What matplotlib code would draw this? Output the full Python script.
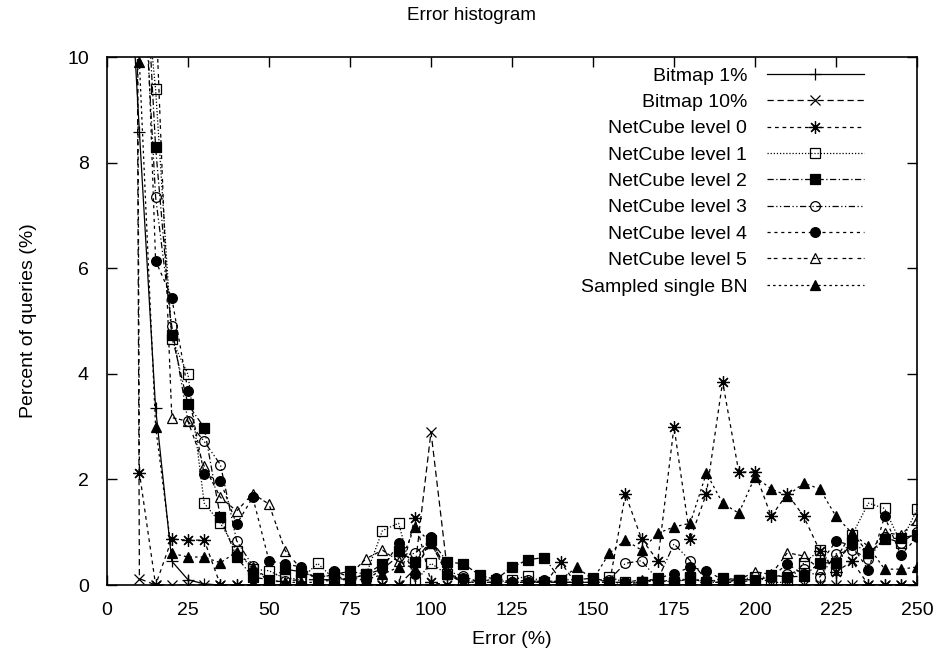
import numpy as np
import matplotlib
matplotlib.use("Agg")
import matplotlib.pyplot as plt

plt.rcParams['font.family'] = ['Liberation Sans', 'DejaVu Sans']

# error bins (%)
error = list(range(0, 255, 5))

bitmap_1 = [73, 14, 8.58, 3.35, 0.45, 0.1, 0.02] + [0.0] * 44

bitmap_10 = [15, 80, 0.12, 0.0, 0.0, 0.0, 0.0, 0.0, 0.0, 0.0,
             0.0, 0.0, 0.0, 0.0, 0.0, 0.0, 0.0, 0.0, 0.0, 0.3,
             2.9, 0.3, 0.0, 0.0, 0.0, 0.0, 0.0, 0.0, 0.0, 0.0,
             0.0, 0.0, 0.0, 0.0, 0.0, 0.0, 0.0, 0.0, 0.0, 0.0,
             0.0, 0.0, 0.0, 0.0, 0.0, 0.0, 0.0, 0.0, 0.0, 0.0, 0.0]

netcube_0 = [15, 80, 2.13, 0.0, 0.87, 0.85, 0.85, 0.0, 0.0, 0.0,
             0.0, 0.0, 0.0, 0.0, 0.0, 0.0, 0.0, 0.0, 0.0, 1.27,
             0.05, 0.0, 0.0, 0.0, 0.0, 0.0, 0.0, 0.0, 0.44, 0.0,
             0.0, 0.0, 1.72, 0.87, 0.46, 3.0, 0.87, 1.73, 3.85, 2.14,
             2.14, 1.3, 1.73, 1.3, 0.65, 0.25, 0.45, 0.0, 0.0, 0.0, 0.0]

netcube_1 = [15, 60, 12.5, 9.39, 4.65, 3.99, 1.55, 1.17, 0.65, 0.3,
             0.27, 0.12, 0.12, 0.41, 0.12, 0.12, 0.2, 1.03, 1.17, 0.05,
             0.41, 0.2, 0.1, 0.05, 0.05, 0.1, 0.17, 0.05, 0.05, 0.05,
             0.05, 0.15, 0.05, 0.05, 0.1, 0.05, 0.15, 0.05, 0.05, 0.1,
             0.15, 0.05, 0.05, 0.41, 0.66, 0.28, 0.95, 1.55, 1.45, 0.8, 1.43]

netcube_2 = [15, 60, 14, 8.29, 4.73, 3.42, 2.98, 1.28, 0.53, 0.15,
             0.1, 0.3, 0.25, 0.13, 0.2, 0.26, 0.2, 0.4, 0.65, 0.44,
             0.85, 0.44, 0.4, 0.19, 0.1, 0.34, 0.48, 0.52, 0.1, 0.1,
             0.13, 0.06, 0.02, 0.05, 0.13, 0.04, 0.13, 0.04, 0.13, 0.1,
             0.1, 0.19, 0.15, 0.17, 0.42, 0.42, 0.8, 0.6, 0.87, 0.89, 0.95]

netcube_3 = [15, 60, 13, 7.35, 4.9, 3.1, 2.72, 2.28, 0.84, 0.36,
             0.05, 0.08, 0.1, 0.1, 0.1, 0.12, 0.2, 0.3, 0.55, 0.6,
             0.85, 0.26, 0.17, 0.05, 0.05, 0.05, 0.1, 0.05, 0.05, 0.05,
             0.05, 0.1, 0.41, 0.46, 0.1, 0.78, 0.46, 0.1, 0.05, 0.05,
             0.1, 0.15, 0.2, 0.3, 0.15, 0.59, 0.66, 0.5, 0.9, 0.8, 1.0]

netcube_4 = [15, 60, 15, 6.14, 5.44, 3.67, 2.1, 1.97, 1.15, 1.66,
             0.46, 0.4, 0.34, 0.1, 0.26, 0.15, 0.1, 0.3, 0.8, 0.2,
             0.91, 0.2, 0.13, 0.05, 0.13, 0.05, 0.05, 0.1, 0.05, 0.05,
             0.05, 0.05, 0.05, 0.05, 0.13, 0.21, 0.34, 0.27, 0.1, 0.1,
             0.1, 0.15, 0.4, 0.2, 0.4, 0.83, 0.75, 0.28, 1.3, 0.57, 0.9]

netcube_5 = [15, 60, 16, 11, 3.17, 3.1, 2.25, 1.66, 1.4, 1.73,
             1.53, 0.65, 0.3, 0.1, 0.1, 0.2, 0.5, 0.66, 0.45, 0.3,
             0.8, 0.2, 0.05, 0.05, 0.05, 0.05, 0.05, 0.05, 0.05, 0.05,
             0.05, 0.05, 0.05, 0.1, 0.05, 0.1, 0.05, 0.05, 0.05, 0.1,
             0.25, 0.2, 0.61, 0.55, 0.3, 0.5, 0.99, 0.6, 0.99, 0.95, 1.23]

sampled_bn = [15, 70, 9.9, 3.0, 0.6, 0.53, 0.53, 0.42, 0.63, 0.35,
              0.1, 0.05, 0.05, 0.05, 0.1, 0.1, 0.1, 0.2, 0.34, 1.1,
              0.8, 0.2, 0.05, 0.05, 0.05, 0.05, 0.05, 0.05, 0.1, 0.34,
              0.1, 0.6, 0.85, 0.66, 0.98, 1.1, 1.17, 2.12, 1.55, 1.36,
              2.05, 1.82, 1.69, 1.93, 1.82, 1.3, 0.98, 0.73, 0.3, 0.3, 0.34]

labels = ["Bitmap 1%", "Bitmap 10%", "NetCube level 0", "NetCube level 1",
          "NetCube level 2", "NetCube level 3", "NetCube level 4",
          "NetCube level 5", "Sampled single BN"]
series = [bitmap_1, bitmap_10, netcube_0, netcube_1, netcube_2,
          netcube_3, netcube_4, netcube_5, sampled_bn]

# gnuplot-like line and point styles
styles = [
    dict(linestyle='-', marker='+', mfc='black', ms=8),
    dict(linestyle=(0, (5, 3)), marker='x', mfc='black', ms=7),
    dict(linestyle=(0, (3, 3)), marker=(8, 2, 0), mfc='black', ms=9),
    dict(linestyle=(0, (1, 1.5)), marker='s', mfc='none', ms=7),
    dict(linestyle=(0, (5, 2, 1, 2)), marker='s', mfc='black', ms=7),
    dict(linestyle=(0, (5, 2, 1, 2, 1, 2)), marker='o', mfc='none', ms=7),
    dict(linestyle=(0, (2.5, 3)), marker='o', mfc='black', ms=7),
    dict(linestyle=(0, (3, 2, 3, 4)), marker='^', mfc='none', ms=7),
    dict(linestyle=(0, (2, 2.5)), marker='^', mfc='black', ms=7),
]

fig = plt.figure(figsize=(9.43, 6.59), dpi=100)
ax = fig.add_axes([107 / 943, 1 - 585 / 659, 810 / 943, 528 / 659])

for vals, lab, st in zip(series, labels, styles):
    ax.plot(error, vals, color='black', linewidth=0.9, mec='black',
            mew=0.9, label=lab, **st)

ax.set_xlim(0, 250)
ax.set_ylim(0, 10)
ax.set_xticks(range(0, 251, 25))
ax.set_yticks(range(0, 11, 2))
ax.tick_params(direction='in', length=7, width=1, top=True, right=True,
               labelsize=14)
ax.tick_params(axis='x', pad=12)
ax.tick_params(axis='y', pad=13)
for s in ax.spines.values():
    s.set_linewidth(1.2)

fig.text(0.5, 1 - 15 / 659, "Error histogram", fontsize=13.5,
         ha='center', va='center')
ax.set_xlabel("Error (%)", fontsize=14, labelpad=9)
ax.set_ylabel("Percent of queries (%)", fontsize=14, labelpad=22)

leg = ax.legend(loc='upper right', bbox_to_anchor=(864 / 943, 1 - 67 / 659),
                bbox_transform=fig.transFigure, frameon=False,
                markerfirst=False, numpoints=1, fontsize=14,
                handlelength=5, handletextpad=1.0, labelspacing=0.45,
                borderpad=0, borderaxespad=0)

fig.savefig("out.png", dpi=100)
